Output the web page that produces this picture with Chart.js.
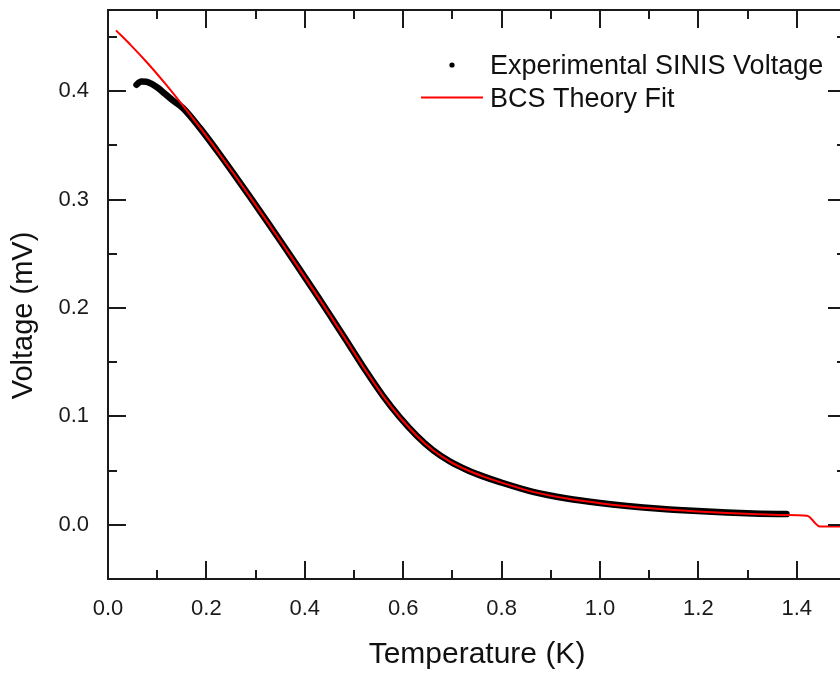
<!DOCTYPE html>
<html>
<head>
<meta charset="utf-8">
<script src="https://cdn.jsdelivr.net/npm/chart.js@4/dist/chart.umd.min.js"></script>
<style>
html,body{margin:0;padding:0;background:#fff;overflow:hidden;width:840px;height:673px;}
#wrap{position:absolute;left:0;top:0;width:850px;height:673px;}
canvas{display:block;}
</style>
</head>
<body>
<div id="wrap"><canvas id="c" width="850" height="673"></canvas></div>
<script>
// ---- Data ----
const bcsTemperature = [0.0163,0.0467,0.0793,0.1159,0.1524,0.1870,0.2215,0.2541,0.2886,0.3232,0.3557,0.3902,0.4248,0.4573,0.4919,0.5264,0.5589,0.5935,0.6280,0.6606,0.6951,0.7297,0.7622,0.7967,0.8638,0.9329,1.0000,1.0549,1.1220,1.1890,1.2581,1.3252,1.3720,1.4207,1.4472,1.5000];
const bcsVoltage     = [0.4562,0.4424,0.4266,0.4074,0.3868,0.3664,0.3453,0.3248,0.3026,0.2800,0.2584,0.2352,0.2117,0.1891,0.1648,0.1405,0.1190,0.0990,0.0820,0.0688,0.0584,0.0506,0.0447,0.0394,0.0304,0.0242,0.0200,0.0172,0.0146,0.0126,0.0109,0.0097,0.0090,0.0084,-0.0016,-0.0016];

const expTemperature = [0.058,0.062,0.068,0.078,0.088,0.100,0.115,0.132,0.1524,0.1870,0.2215,0.2541,0.2886,0.3232,0.3557,0.3902,0.4248,0.4573,0.4919,0.5264,0.5589,0.5935,0.6280,0.6606,0.6951,0.7297,0.7622,0.7967,0.8638,0.9329,1.0000,1.0549,1.1220,1.1890,1.2581,1.3252,1.379];
const expVoltage     = [0.4060,0.4078,0.4090,0.4088,0.4070,0.4035,0.3980,0.3915,0.3845,0.3660,0.3453,0.3248,0.3026,0.2800,0.2584,0.2352,0.2117,0.1891,0.1648,0.1405,0.1190,0.0990,0.0820,0.0688,0.0584,0.0506,0.0447,0.0394,0.0304,0.0243,0.0201,0.0174,0.0148,0.0129,0.0113,0.0103,0.0099];

const xTickValues = [0,0.2,0.4,0.6,0.8,1.0,1.2,1.4];
const xTickLabels = ['0.0','0.2','0.4','0.6','0.8','1.0','1.2','1.4'];
const xMinorTickValues = [0.1,0.3,0.5,0.7,0.9,1.1,1.3];
const yTickValues = [0,0.1,0.2,0.3,0.4];
const yTickLabels = ['0.0','0.1','0.2','0.3','0.4'];
const yMinorTickValues = [0.05,0.15,0.25,0.35,0.45];

const seriesNames = ['Experimental SINIS Voltage','BCS Theory Fit'];
const xTitle = 'Temperature (K)';
const yTitle = 'Voltage (mV)';

const FONT = '"Liberation Sans", Arial, Helvetica, sans-serif';

const toXY = (xs, ys) => xs.map((x, i) => ({x: x, y: ys[i]}));

const framePlugin = {
  id: 'frameTicks',
  afterDraw(chart) {
    const {ctx, chartArea: a, scales: {x, y}} = chart;
    ctx.save();
    ctx.strokeStyle = '#1a1a1a';
    ctx.lineWidth = 2;
    ctx.strokeRect(a.left, a.top, a.right - a.left, a.bottom - a.top);
    const major = 18, minor = 9;
    ctx.beginPath();
    const xt = (v, len) => {
      const p = Math.round(x.getPixelForValue(v));
      ctx.moveTo(p, a.bottom); ctx.lineTo(p, a.bottom - len);
      ctx.moveTo(p, a.top); ctx.lineTo(p, a.top + len);
    };
    const yt = (v, len) => {
      const p = Math.round(y.getPixelForValue(v));
      ctx.moveTo(a.left, p); ctx.lineTo(a.left + len, p);
      ctx.moveTo(a.right, p); ctx.lineTo(a.right - len, p);
    };
    xTickValues.forEach(v => xt(v, major));
    xMinorTickValues.forEach(v => xt(v, minor));
    yTickValues.forEach(v => yt(v, major));
    yMinorTickValues.forEach(v => yt(v, minor));
    ctx.stroke();

    // legend
    ctx.fillStyle = '#000';
    ctx.beginPath();
    ctx.arc(452, 65, 2.6, 0, Math.PI * 2);
    ctx.fill();
    ctx.strokeStyle = '#ff0000';
    ctx.lineWidth = 2;
    ctx.beginPath();
    ctx.moveTo(421, 97.5); ctx.lineTo(483, 97.5);
    ctx.stroke();
    ctx.fillStyle = '#111';
    ctx.font = '27px ' + FONT;
    ctx.textAlign = 'left';
    ctx.textBaseline = 'alphabetic';
    ctx.fillText(seriesNames[0], 490, 74);
    ctx.fillText(seriesNames[1], 490, 107);

    // y axis title
    ctx.save();
    ctx.translate(23.5, 315.5);
    ctx.rotate(-Math.PI / 2);
    ctx.font = '29px ' + FONT;
    ctx.textAlign = 'center';
    ctx.textBaseline = 'middle';
    ctx.fillText(yTitle, 0, 0);
    ctx.restore();
    ctx.restore();
  }
};

new Chart(document.getElementById('c'), {
  type: 'line',
  data: {
    datasets: [
      {
        label: seriesNames[1],
        data: toXY(bcsTemperature, bcsVoltage),
        borderColor: '#ff0000',
        borderWidth: 2,
        pointRadius: 0,
        fill: false,
        cubicInterpolationMode: 'monotone',
        order: 0
      },
      {
        label: seriesNames[0],
        data: toXY(expTemperature, expVoltage),
        borderColor: '#000000',
        borderWidth: 6.5,
        borderCapStyle: 'round',
        borderJoinStyle: 'round',
        pointRadius: 0,
        fill: false,
        cubicInterpolationMode: 'monotone',
        order: 1
      }
    ]
  },
  options: {
    responsive: false,
    animation: false,
    devicePixelRatio: 1,
    layout: {padding: {top: 10, right: 4, left: 0, bottom: 0}},
    plugins: {legend: {display: false}, tooltip: {enabled: false}},
    scales: {
      x: {
        type: 'linear',
        min: 0,
        max: 1.5,
        afterBuildTicks: s => { s.ticks = xTickValues.map(v => ({value: v})); },
        afterFit: s => { s.height = 94; s.paddingLeft = 0; s.paddingRight = 0; s.paddingTop = 0; s.paddingBottom = 0; },
        ticks: {
          callback: (v, i) => xTickLabels[i],
          font: {family: FONT, size: 22},
          color: '#1a1a1a',
          padding: 17,
          maxRotation: 0,
          autoSkip: false
        },
        grid: {display: false, drawTicks: false},
        border: {display: false},
        title: {
          display: true,
          text: xTitle,
          font: {family: FONT, size: 30},
          color: '#111',
          padding: {top: 0, bottom: 0}
        }
      },
      y: {
        type: 'linear',
        min: -0.05,
        max: 0.475,
        afterBuildTicks: s => { s.ticks = yTickValues.map(v => ({value: v})); },
        afterFit: s => { s.width = 108; s.paddingLeft = 0; s.paddingRight = 0; s.paddingTop = 0; s.paddingBottom = 0; },
        ticks: {
          callback: (v, i) => yTickLabels[i],
          font: {family: FONT, size: 22},
          color: '#1a1a1a',
          padding: 19,
          autoSkip: false
        },
        grid: {display: false, drawTicks: false},
        border: {display: false},
        title: {display: false}
      }
    }
  },
  plugins: [framePlugin]
});
</script>
</body>
</html>
